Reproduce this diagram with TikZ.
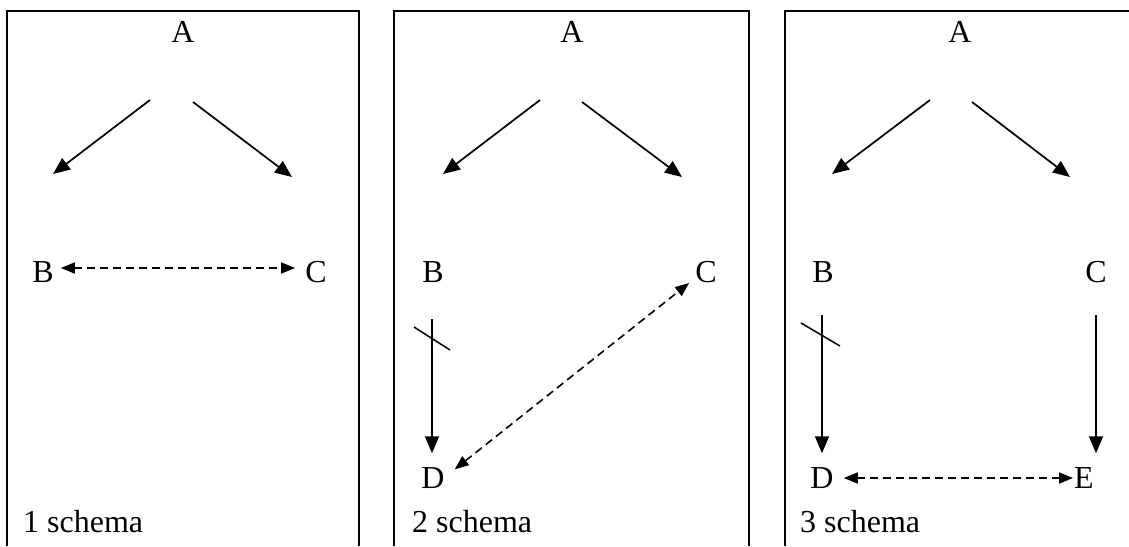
\documentclass[tikz,border=0pt]{standalone}
\usepackage{fontspec}
\setmainfont{Liberation Serif}
\usetikzlibrary{arrows.meta}
\begin{document}
\begin{tikzpicture}[x=1pt,y=-1pt,
  lbl/.style={inner sep=2pt, font=\fontsize{32}{38}\selectfont},
  caption/.style={lbl, anchor=west},
  frame/.style={line width=2.6pt},
  solidarrow/.style={line width=1.7pt, -{Triangle[length=17pt,width=14pt]}},
  dasharrow/.style={line width=1.6pt, dash pattern=on 8pt off 5pt,
    {Triangle[length=14pt,width=11pt]}-{Triangle[length=14pt,width=11pt]}},
  cutmark/.style={line width=1.5pt}]
\useasboundingbox (0,0) rectangle (1129,546);

% open-bottomed frames
\draw[frame] (7,546) -- (7,11) -- (359,11) -- (359,546);
\draw[frame] (394,546) -- (394,11) -- (749,11) -- (749,546);
\draw[frame] (785,546) -- (785,11) -- (1129,11);

% ---------- schema 1 ----------
\node[lbl] (A1) at (183,32) {A};
\node[lbl] (B1) at (43,272) {B};
\node[lbl] (C1) at (316,272) {C};
\node[caption] (S1) at (21,522) {1 schema};
\coordinate (A1l) at (150,100);
\coordinate (A1r) at (193,102);
\coordinate (T1l) at (53,174);
\coordinate (T1r) at (292,177);
\draw[solidarrow] (A1l) -- (T1l);
\draw[solidarrow] (A1r) -- (T1r);
\draw[dasharrow] ([xshift=5pt,yshift=4pt]B1.east) -- ([xshift=-8pt,yshift=4pt]C1.west);

% ---------- schema 2 ----------
\node[lbl] (A2) at (572,32) {A};
\node[lbl] (B2) at (433,272) {B};
\node[lbl] (C2) at (706,272) {C};
\node[lbl] (D2) at (433,478) {D};
\node[caption] (S2) at (410,522) {2 schema};
\coordinate (A2l) at (540,100);
\coordinate (A2r) at (582,102);
\coordinate (T2l) at (443,174);
\coordinate (T2r) at (682,177);
\draw[solidarrow] (A2l) -- (T2l);
\draw[solidarrow] (A2r) -- (T2r);
\coordinate (B2s) at (432,319);
\draw[solidarrow] (B2s) -- ([xshift=-1pt,yshift=12pt]D2.north);
\draw[cutmark] (414,327) -- (450,350);
\draw[dasharrow] ([xshift=8pt,yshift=-4pt]D2.north east) -- ([xshift=-4pt,yshift=2pt]C2.south west);

% ---------- schema 3 ----------
\node[lbl] (A3) at (960,32) {A};
\node[lbl] (B3) at (823,272) {B};
\node[lbl] (C3) at (1096,272) {C};
\node[lbl] (D3) at (822,478) {D};
\node[lbl] (E3) at (1084,478) {E};
\node[caption] (S3) at (798,522) {3 schema};
\coordinate (A3l) at (930,100);
\coordinate (A3r) at (972,102);
\coordinate (T3l) at (832,174);
\coordinate (T3r) at (1070,177);
\draw[solidarrow] (A3l) -- (T3l);
\draw[solidarrow] (A3r) -- (T3r);
\coordinate (B3s) at (822,315);
\coordinate (C3s) at (1096,315);
\draw[solidarrow] (B3s) -- ([yshift=12pt]D3.north);
\draw[solidarrow] (C3s) -- ([xshift=12pt,yshift=12pt]E3.north);
\draw[cutmark] (801,323) -- (840,346);
\draw[dasharrow] ([xshift=8pt]D3.east) -- ([xshift=1pt]E3.west);
\end{tikzpicture}
\end{document}
